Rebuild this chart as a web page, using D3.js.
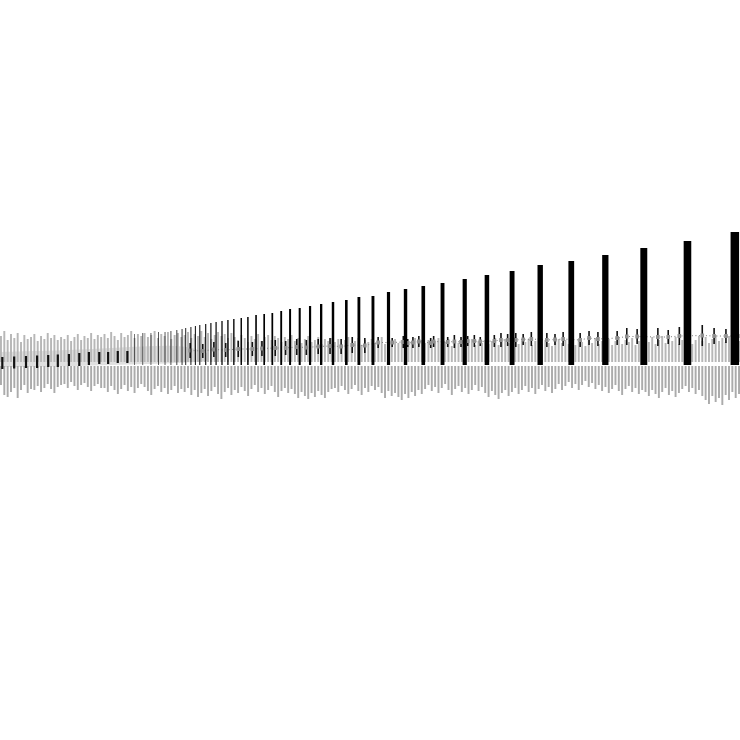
<!DOCTYPE html>
<html>
<head>
<meta charset="utf-8">
<script src="https://cdn.jsdelivr.net/npm/d3@7/dist/d3.min.js"></script>
<style>
  html, body { margin: 0; padding: 0; background: #ffffff; }
  svg { display: block; }
</style>
</head>
<body>
<script>
// ---------------- DATA ----------------
// gray columns (one per slot), magnitude above and below the baseline
const grayUp = [
  26,31,22,28,24,29,20,27,23,25,
  28,21,26,23,29,24,27,22,25,
  23,27,21,25,28,22,26,24,29,23,27,25,
  28,24,30,26,22,29,25,27,31,24,28,26,
  29,25,27,31,24,28,26,30,23,27,29,25,
  27,30,24,28,26,31,25,29,23,27,30,26,28,24,29,
  25,22,27,24,20,26,23,28,21,25,27,22,26,24,20,25,23,27,
  21,24,19,23,26,20,22,25,18,23,21,24,
  20,23,18,22,25,19,21,24,17,22,20,23,19,21,25,18,22,20,
  23,19,22,25,18,21,24,20,22,
  19,22,17,21,24,18,20,23,16,21,19,22,18,20,23,17,21,19,
  22,18,21,24,17,20,23,19,22,25,18,21,
  20,23,17,21,24,18,22,19,16,21,23,19,
  22,18,21,17,23,20,16,22,19,24,18,21,
  19,23,17,21,25,18,22,20,24,17,21,19,
  23,20,25,18,22,26,19,23,21,25,18,22,
  20,24,18,22,26,21,
  25,19,23,27,21,24,20,26,22,25,21
];
const grayDown = [
  19,29,31,26,22,32,24,19,27,23,
  24,20,26,22,18,23,27,21,19,
  18,22,16,20,24,19,17,21,25,20,18,22,
  22,26,20,24,28,23,19,25,21,27,22,18,
  21,25,29,23,20,26,22,28,24,20,27,23,
  26,22,29,24,31,27,23,30,25,21,28,33,26,22,29,
  24,27,21,25,30,23,19,26,22,28,24,20,26,31,25,22,27,23,
  28,32,26,30,33,27,31,25,29,32,26,23,
  22,26,20,24,28,23,19,25,29,22,26,20,24,21,27,32,25,30,
  27,31,34,28,32,26,30,24,28,
  23,19,25,21,27,22,18,24,29,23,20,26,22,28,24,19,25,21,
  27,31,25,29,33,27,24,30,26,22,28,24,
  20,26,22,28,23,19,25,21,27,23,18,24,
  20,16,22,18,24,19,15,21,17,23,19,25,
  21,27,23,19,25,29,23,20,26,22,28,24,
  26,30,24,28,32,26,22,29,25,31,27,23,
  20,26,22,28,24,30,
  34,38,30,36,32,39,29,34,26,32,28
];

// pale band behind the left part (position, low, high)
const bandX  = [0, 5, 10, 15, 20, 25, 28];
const bandLo = [-2, -2, -1, 0, 1, 2, 4];
const bandHi = [13, 14, 15, 17, 19, 20, 12];

// short dark segments on the left (position on 0-100 axis, low and high value)
const stubX  = [0.3, 1.9, 3.5, 5.0, 6.5, 7.8, 9.3, 10.7, 12.0, 13.4, 14.6, 15.9, 17.2];
const stubLo = [-4, -3.5, -3, -3, -2, -2, -1, -1, 0, 1, 1, 2, 2];
const stubHi = [8, 8.5, 9, 9.5, 10, 10.5, 11, 12, 13, 13, 13, 14, 14];

// main black bars (position on 0-100 axis, value)
const barX = [18.2,19.3,20.4,21.4,22.3,23.1,23.9,24.6,25.1,25.8,26.4,27.0,27.8,28.5,29.2,
  30.0,30.8,31.6,32.6,33.5,34.6,35.7,36.8,38.0,39.2,40.5,41.9,43.4,45.0,46.8,48.5,50.4,
  52.5,54.8,57.2,59.8,62.8,65.8,69.2,73.0,77.2,81.8,87.0,92.9,99.3];
const barV = [31,32,32,33,33,34,35,36,37,38,39,40,41,42,43,
  44,45,46,47,48,50,51,52,54,56,57,59,61,63,65,68,69,
  73,76,79,82,86,90,94,100,104,110,117,124,133];

// whiskers (position, low, high)
const whiskX = [25.7,27.4,28.9,30.5,32.2,34.1,35.4,37.2,38.6,40.1,41.4,43.0,44.6,46.1,47.6,49.3,
  51.1,53.0,54.5,55.1,55.8,56.6,58.2,58.6,60.5,61.4,62.3,63.2,64.1,64.9,66.8,
  67.7,68.6,69.7,70.7,71.8,73.9,75.0,76.1,78.4,79.6,80.8,83.4,
  84.7,86.1,88.9,90.3,91.8,94.9,96.5,98.1,99.7];
const whiskLo = [7,7,8,8,8,9,9,9,10,10,10,11,11,11,12,12,
  17,18,17,18,17,18,17,18,18,17,18,19,18,19,18,
  18,19,18,20,19,18,20,19,18,20,19,20,
  20,21,19,21,20,19,21,22,20];
const whiskHi = [22,21,23,22,24,23,24,25,24,26,25,26,27,26,28,27,
  28,27,29,26,28,29,27,29,28,30,28,29,30,28,30,
  32,31,32,31,33,32,31,33,32,34,33,34,
  37,36,37,35,38,40,37,36,38];

// ---------------- CHART ----------------
const W = 740, H = 740;
const svg = d3.select("body").append("svg").attr("width", W).attr("height", H);

const defs = svg.append("defs");
defs.append("filter").attr("id", "soft")
  .attr("x", "-50%").attr("y", "-5%").attr("width", "200%").attr("height", "110%")
  .append("feGaussianBlur").attr("stdDeviation", 0.55);

const x = d3.scaleLinear().domain([0, 100]).range([0, 740]);
const y = d3.scaleLinear().domain([-40, 140]).range([405, 225]);
const slot = d3.scaleBand().domain(d3.range(grayUp.length)).range([0, 740]).paddingInner(0.42);

const upBase = 3, downBase = -1;

// pale band
svg.append("path")
  .attr("d", d3.area().x(d => x(d)).y0((d, i) => y(bandLo[i])).y1((d, i) => y(bandHi[i]))
    .curve(d3.curveBasis)(bandX))
  .attr("fill", "#e0e0e0");

// gray columns
svg.append("g").selectAll("rect").data(grayDown).join("rect")
  .attr("x", (d, i) => slot(i))
  .attr("width", slot.bandwidth())
  .attr("y", y(downBase))
  .attr("height", d => y(downBase - d) - y(downBase))
  .attr("fill", "#ababab");

svg.append("g").selectAll("rect").data(grayUp).join("rect")
  .attr("x", (d, i) => slot(i))
  .attr("width", slot.bandwidth())
  .attr("y", d => y(upBase + d))
  .attr("height", d => y(upBase) - y(upBase + d))
  .attr("fill", "#b7b7b7");

// dotted line through whisker mid points
const mids = whiskX.map((v, i) => [v, (whiskLo[i] + whiskHi[i]) / 2]);
svg.append("path")
  .attr("d", d3.line().x(d => x(d[0])).y(d => y(d[1]))(mids))
  .attr("fill", "none")
  .attr("stroke", "#7a7a7a")
  .attr("stroke-width", 1)
  .attr("stroke-dasharray", "1,2.5");

// whiskers
const wg = svg.append("g");
wg.selectAll("line").data(whiskX).join("line")
  .attr("x1", d => x(d)).attr("x2", d => x(d))
  .attr("y1", (d, i) => y(whiskLo[i]))
  .attr("y2", (d, i) => y(whiskHi[i]))
  .attr("stroke", "#111").attr("stroke-width", 1.6);
wg.selectAll("rect").data(whiskX).join("rect")
  .attr("x", d => x(d) - 1.8)
  .attr("width", 3.6)
  .attr("y", (d, i) => y((whiskLo[i] + whiskHi[i]) / 2) - 2)
  .attr("height", 4)
  .attr("fill", "#8f8f8f");

// left short dark segments
svg.append("g").selectAll("rect").data(stubX).join("rect")
  .attr("x", d => x(d) - 1)
  .attr("width", 2.2)
  .attr("y", (d, i) => y(stubHi[i]))
  .attr("height", (d, i) => y(stubLo[i]) - y(stubHi[i]))
  .attr("fill", "#111");

// main black bars; width grows with value
const wScale = d3.scalePow().exponent(1.5).domain([30, 133]).range([0.5, 8.5]);
svg.append("g").attr("filter", "url(#soft)")
  .selectAll("rect").data(barX).join("rect")
  .attr("x", (d, i) => x(d) - wScale(barV[i]) / 2)
  .attr("width", (d, i) => wScale(barV[i]))
  .attr("y", (d, i) => y(barV[i]))
  .attr("height", (d, i) => y(0) - y(barV[i]))
  .attr("fill", "#050505");
</script>
</body>
</html>
